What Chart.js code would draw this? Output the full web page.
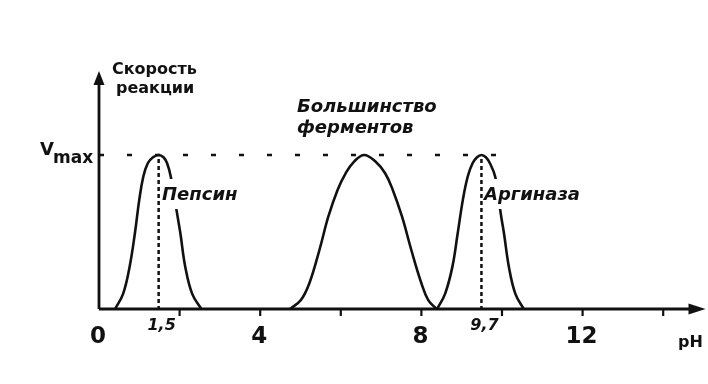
<!DOCTYPE html>
<html>
<head>
<meta charset="utf-8">
<script src="https://cdn.jsdelivr.net/npm/chart.js@4.4.0/dist/chart.umd.min.js"></script>
<style>
body{margin:0;background:#fff;}
#wrap{width:708px;height:384px;}
</style>
</head>
<body>
<div id="wrap"><canvas id="grafico" width="708" height="384"></canvas></div>
<script>
// pH / relative rate (Vmax = 1)
const pepsinPh     = [0.40, 0.60, 0.76, 0.89, 1.00, 1.10, 1.21, 1.34, 1.48, 1.60, 1.69, 1.78, 1.95, 2.02, 2.14, 2.31, 2.54];
const pepsinRate   = [0, 0.10, 0.275, 0.49, 0.71, 0.86, 0.946, 0.985, 1, 0.985, 0.946, 0.86, 0.60, 0.49, 0.275, 0.10, 0];
const mostPh       = [4.74, 5.01, 5.22, 5.47, 5.69, 5.92, 6.12, 6.33, 6.58, 6.86, 7.10, 7.29, 7.52, 7.75, 8.00, 8.17, 8.38];
const mostRate     = [0, 0.058, 0.167, 0.383, 0.599, 0.773, 0.881, 0.957, 1, 0.957, 0.881, 0.773, 0.599, 0.383, 0.167, 0.058, 0];
const arginasePh   = [8.39, 8.59, 8.77, 8.90, 9.03, 9.15, 9.27, 9.38, 9.49, 9.60, 9.70, 9.83, 9.98, 10.05, 10.17, 10.33, 10.54];
const arginaseRate = [0, 0.10, 0.275, 0.49, 0.71, 0.86, 0.946, 0.985, 1, 0.985, 0.946, 0.86, 0.60, 0.49, 0.275, 0.10, 0];

const axisTicks  = [0, 2, 4, 6, 8, 10, 12, 14];
const axisLabels = ['0', '', '4', '', '8', '', '12', ''];
const peakPh     = [1.48, 9.49];
const peakLabels = ['1,5', '9,7'];
const vmaxLevel  = 1;
const vmaxEndPh  = 10.1;

const FONTE = '"DejaVu Sans"';

function pontos(xs, ys){
	return xs.map(function(x, i){ return {x: x, y: ys[i]}; });
}

function texto(ctx, txt, x, y, font, align){
	ctx.save();
	ctx.font = font;
	ctx.textAlign = align;
	ctx.textBaseline = 'alphabetic';
	ctx.fillStyle = '#111';
	ctx.fillText(txt, x, y);
	ctx.restore();
}

function rotulo(ctx, txt, x, y, font){
	// white box cuts the curve behind the label, like the original
	ctx.save();
	ctx.font = font;
	let w = ctx.measureText(txt).width;
	ctx.fillStyle = '#fff';
	ctx.fillRect(x - 1, y - 21, w + 4, 30);
	ctx.restore();
	texto(ctx, txt, x, y, font, 'left');
}

const eixos = {
	id: 'eixos',
	beforeDatasetsDraw: function(chart){
		const ctx = chart.ctx;
		const sx = chart.scales.x, sy = chart.scales.y;
		const x0 = sx.getPixelForValue(0), y0 = sy.getPixelForValue(0);
		const xEnd = sx.right, yTop = sy.top;
		const yV = sy.getPixelForValue(vmaxLevel);

		ctx.save();
		ctx.strokeStyle = '#111';
		ctx.fillStyle = '#111';
		ctx.lineWidth = 2.8;

		// axes
		ctx.beginPath();
		ctx.moveTo(x0, y0); ctx.lineTo(xEnd - 10, y0);
		ctx.moveTo(x0, y0); ctx.lineTo(x0, yTop + 10);
		ctx.stroke();
		ctx.beginPath();
		ctx.moveTo(xEnd, y0); ctx.lineTo(xEnd - 17, y0 - 5.5); ctx.lineTo(xEnd - 17, y0 + 5.5);
		ctx.closePath(); ctx.fill();
		ctx.beginPath();
		ctx.moveTo(x0, yTop); ctx.lineTo(x0 - 5.5, yTop + 14); ctx.lineTo(x0 + 5.5, yTop + 14);
		ctx.closePath(); ctx.fill();

		// ticks
		ctx.lineWidth = 2.2;
		axisTicks.forEach(function(t){
			if (t === 0) return;
			let px = sx.getPixelForValue(t);
			ctx.beginPath(); ctx.moveTo(px, y0); ctx.lineTo(px, y0 + 7); ctx.stroke();
		});

		// Vmax dashed line
		ctx.lineWidth = 2.5;
		ctx.setLineDash([5, 23]);
		ctx.beginPath();
		ctx.moveTo(x0, yV); ctx.lineTo(sx.getPixelForValue(vmaxEndPh), yV);
		ctx.stroke();

		// dotted lines under peaks
		ctx.setLineDash([4, 3]);
		peakPh.forEach(function(p){
			let px = sx.getPixelForValue(p);
			ctx.beginPath(); ctx.moveTo(px, yV + 4); ctx.lineTo(px, y0 - 1); ctx.stroke();
		});
		ctx.restore();
	},
	afterDatasetsDraw: function(chart){
		const ctx = chart.ctx;
		const sx = chart.scales.x, sy = chart.scales.y;
		const y0 = sy.getPixelForValue(0);
		const yV = sy.getPixelForValue(vmaxLevel);

		axisTicks.forEach(function(t, i){
			if (axisLabels[i] === '') return;
			texto(ctx, axisLabels[i], sx.getPixelForValue(t) - 1, y0 + 34, 'bold 23px ' + FONTE, 'center');
		});
		peakPh.forEach(function(p, i){
			texto(ctx, peakLabels[i], sx.getPixelForValue(p) + 3, y0 + 21, 'italic bold 16px ' + FONTE, 'center');
		});
		texto(ctx, 'pH', 678, y0 + 38, 'bold 16px ' + FONTE, 'left');

		texto(ctx, 'V', 40, yV, 'bold 18px ' + FONTE, 'left');
		texto(ctx, 'max', 53, yV + 8, 'bold 17px ' + FONTE, 'left');
		texto(ctx, 'Скорость', 112, 74, 'bold 16px ' + FONTE, 'left');
		texto(ctx, 'реакции', 116, 93, 'bold 16px ' + FONTE, 'left');

		rotulo(ctx, 'Пепсин', 162, 200, 'italic bold 18px ' + FONTE);
		rotulo(ctx, 'Аргиназа', 484, 200, 'italic bold 18px ' + FONTE);
		texto(ctx, 'Большинство', 297, 112, 'italic bold 18px ' + FONTE, 'left');
		texto(ctx, 'ферментов', 297, 133, 'italic bold 18px ' + FONTE, 'left');
	}
};

function serie(xs, ys){
	return {
		data: pontos(xs, ys),
		borderColor: '#111',
		borderWidth: 2.6,
		pointRadius: 0,
		fill: false,
		tension: 0.4
	};
}

new Chart(document.getElementById('grafico'), {
	type: 'line',
	data: {
		datasets: [
			serie(pepsinPh, pepsinRate),
			serie(mostPh, mostRate),
			serie(arginasePh, arginaseRate)
		]
	},
	options: {
		responsive: false,
		animation: false,
		clip: false,
		layout: { padding: { left: 99, right: 2.5, top: 71, bottom: 75 } },
		plugins: { legend: { display: false }, tooltip: { enabled: false } },
		scales: {
			x: { type: 'linear', min: 0, max: 15.05, display: false },
			y: { min: 0, max: 1.545, display: false }
		}
	},
	plugins: [eixos]
});
</script>
</body>
</html>
